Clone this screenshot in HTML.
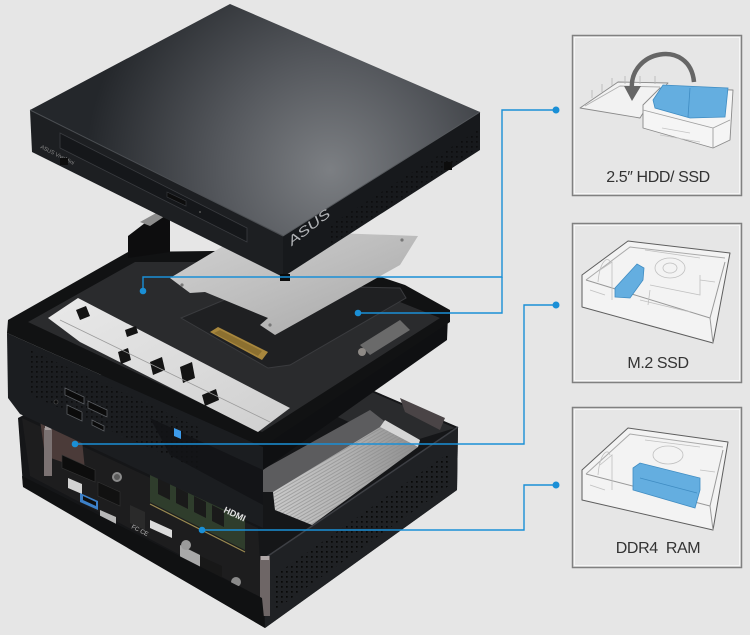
<!DOCTYPE html>
<html><head><meta charset="utf-8">
<style>
html,body{margin:0;padding:0;background:#e6e6e6;}
body{width:750px;height:635px;overflow:hidden;position:relative;font-family:"Liberation Sans",sans-serif;}
svg{position:absolute;left:0;top:0;display:block;}
</style></head><body>
<svg width="750" height="635" viewBox="0 0 750 635" xmlns="http://www.w3.org/2000/svg">
<defs>
 <radialGradient id="lidTop" cx="330" cy="170" r="245" gradientUnits="userSpaceOnUse">
  <stop offset="0" stop-color="#7c7f83"/>
  <stop offset="0.45" stop-color="#55585d"/>
  <stop offset="1" stop-color="#24272b"/>
 </radialGradient>
 <linearGradient id="silver" x1="0" y1="0" x2="1" y2="1">
  <stop offset="0" stop-color="#d2d2d2"/>
  <stop offset="0.5" stop-color="#bdbdbd"/>
  <stop offset="1" stop-color="#a5a5a5"/>
 </linearGradient>
 <linearGradient id="plate" x1="0" y1="0" x2="1" y2="1">
  <stop offset="0" stop-color="#e9e9e9"/>
  <stop offset="1" stop-color="#cfcfcf"/>
 </linearGradient>
 <linearGradient id="heat" x1="0" y1="0" x2="1" y2="0">
  <stop offset="0" stop-color="#c9c9c9"/>
  <stop offset="0.5" stop-color="#b3b3b3"/>
  <stop offset="1" stop-color="#8e8e8e"/>
 </linearGradient>
 <pattern id="perf" width="5" height="5" patternUnits="userSpaceOnUse">
  <rect x="1" y="1" width="1.7" height="1.7" fill="#050505"/>
 </pattern>
 <pattern id="fins" width="3" height="3" patternUnits="userSpaceOnUse" patternTransform="rotate(-30)">
  <rect x="0" y="0" width="3" height="1" fill="#8a8a8a" opacity="0.6"/>
 </pattern>
</defs>

<!-- ========== BASE ========== -->
<polygon points="18,418 120,365 367,388 458,427 457,490 265,628 23,486" fill="#151618"/>
<polygon points="300,400 367,390 455,428 400,445" fill="#2a2b2d"/>
<polygon points="400,398 445,418 440,430 405,412" fill="#4a4446"/>
<polygon points="22,418 258,528 262,598 30,476" fill="#1d1d1e"/>
<polygon points="40,420 82,440 85,470 45,456" fill="#4b3b39"/>
<rect x="44" y="428" width="8" height="48" fill="#7b7272"/>
<rect x="45" y="426" width="6" height="4" fill="#a8a0a0"/>
<polygon points="62,455 95,470 95,482 62,468" fill="#0d0d0d" stroke="#333" stroke-width="0.6"/>
<polygon points="68,478 82,484 82,494 68,488" fill="#d3d3d3"/>
<polygon points="80,493 98,501 98,510 80,502" fill="#3c80c8"/>
<polygon points="83,496 96,502 96,506 83,500" fill="#0f0f0f"/>
<polygon points="100,510 116,517 116,526 100,519" fill="#b8b8b8"/>
<polygon points="98,482 120,492 120,506 98,496" fill="#111" stroke="#333" stroke-width="0.6"/>
<circle cx="117" cy="477" r="5" fill="#8c8c8c"/>
<circle cx="117" cy="477" r="3" fill="#5a5a5a"/>
<polygon points="130,505 145,512 145,530 130,523" fill="#2a2a2a"/>
<polygon points="150,520 172,530 172,538 150,528" fill="#dcdcdc"/>
<text x="131" y="528" font-size="6" fill="#bbb" transform="rotate(27 131 528)">FC CE</text>
<polygon points="150,474 160,470 245,515 245,550 150,502" fill="#2f3d2c"/>
<g fill="#1a1a1a">
 <polygon points="158,478 170,484 170,500 158,494"/>
 <polygon points="176,487 188,493 188,509 176,503"/>
 <polygon points="194,496 206,502 206,518 194,512"/>
 <polygon points="212,505 224,511 224,527 212,521"/>
</g>
<line x1="150" y1="504" x2="245" y2="552" stroke="#9a8a50" stroke-width="1.2"/>
<polygon points="180,545 200,555 200,568 180,558" fill="#a9a9a9"/>
<circle cx="186" cy="545" r="5" fill="#9b9b9b"/>
<polygon points="200,556 222,566 222,580 200,570" fill="#181818"/>
<circle cx="236" cy="582" r="5" fill="#8a8a8a"/>
<polygon points="262,470 370,410 388,424 275,492 262,492" fill="#5c5c5e"/>
<polygon points="273,492 380,427 418,447 312,525 275,510" fill="url(#heat)"/>
<polygon points="273,492 380,427 418,447 312,525 275,510" fill="url(#fins)"/>
<polygon points="380,427 418,447 420,440 385,420" fill="#d6d6d6"/>
<polygon points="265,558 458,427 457,490 265,628" fill="#1f2124"/>
<polygon points="275,575 450,452 450,485 275,610" fill="url(#perf)" opacity="0.9"/>
<line x1="265" y1="558" x2="458" y2="427" stroke="#3d3f44" stroke-width="1.5"/>
<rect x="260" y="556" width="10" height="60" fill="#6e6666"/>
<rect x="261" y="556" width="8" height="4" fill="#b0a8a8"/>
<polygon points="22,476 262,598 265,628 23,487" fill="#101112"/>

<!-- ========== MIDDLE TRAY ========== -->
<polygon points="7,333 263,447 263,528 20,414 8,398" fill="#1b1d20"/>
<polygon points="30,350 200,428 200,470 30,395" fill="url(#perf)" opacity="0.7"/>
<polygon points="150,418 263,470 263,505 170,455" fill="#121315" opacity="0.8"/>
<polygon points="263,447 448,315 447,340 263,470" fill="#0f1012"/>
<polygon points="8,320 128,252 300,250 405,285 450,310 450,322 263,447 7,333" fill="#111213"/>
<polygon points="28,322 135,262 300,262 440,318 262,432" fill="#2a2b2d"/>
<polygon points="128,258 128,236 158,213 170,214 170,252" fill="#0d0d0e"/>
<polygon points="140,222 158,212 168,214 150,226" fill="#8c8c8c"/>
<polygon points="48,318 78,298 290,408 258,432 80,342" fill="url(#plate)"/>
<g fill="#141414">
 <polygon points="76,310 86,306 90,316 80,320"/>
 <polygon points="118,352 128,348 131,360 121,364"/>
 <polygon points="150,362 162,357 165,370 153,375"/>
 <polygon points="180,367 192,362 195,378 183,383"/>
 <polygon points="202,395 216,389 219,400 205,406"/>
 <polygon points="125,330 136,326 138,333 127,337"/>
</g>
<line x1="60" y1="320" x2="270" y2="422" stroke="#9a9a9a" stroke-width="0.8"/>
<polygon points="181,318 260,285 400,288 406,298 290,365 268,368" fill="#1f2022" stroke="#3a3b3e" stroke-width="1"/>
<polygon points="210,332 218,327 268,352 262,360" fill="#a8873d"/>
<polygon points="214,333 220,330 262,351 258,356" fill="#7a6128" opacity="0.6"/>
<polygon points="360,345 400,320 410,330 370,355" fill="#6a6a6a"/>
<circle cx="362" cy="352" r="4" fill="#8e8a86"/>
<polygon points="170,278 250,230 418,236 400,265 275,335 260,325 268,318 205,292 190,293" fill="url(#silver)"/>
<circle cx="182" cy="285" r="1.6" fill="#777"/>
<circle cx="270" cy="325" r="1.6" fill="#777"/>
<circle cx="402" cy="240" r="1.6" fill="#777"/>
<g fill="#0b0b0b" stroke="#5a5d61" stroke-width="0.8">
 <polygon points="65,388 84,397 84,404 65,395"/>
 <polygon points="88,401 107,410 107,417 88,408"/>
 <polygon points="67,405 82,412 82,421 67,414"/>
 <polygon points="92,420 104,426 104,431 92,425"/>
</g>
<circle cx="56" cy="402" r="2" fill="#0a0a0a" stroke="#555" stroke-width="0.6"/>
<polygon points="174,428 181,431 181,439 174,436" fill="#3d9bea"/>
<text x="223" y="512" font-size="9" font-weight="bold" fill="#e0e0e0" transform="rotate(25 223 512)">HDMI</text>

<!-- ========== LID ========== -->
<polygon points="30,110 283,236 283,277 32,152" fill="#1d1f22"/>
<polygon points="283,236 480,112 480,150 283,277" fill="#17191c"/>
<polygon points="330,225 478,130 478,148 330,245" fill="url(#perf)" opacity="0.6"/>
<polygon points="30,110 230,4 480,112 283,236" fill="url(#lidTop)"/>
<line x1="30" y1="110" x2="283" y2="236" stroke="#4b4e52" stroke-width="1"/>
<line x1="283" y1="236" x2="480" y2="112" stroke="#56595d" stroke-width="1"/>
<polygon points="60,133 247,228 247,242 60,148" fill="#15171a" stroke="#3a3c40" stroke-width="0.8"/>
<polygon points="167,192 186,201 186,206 167,197" fill="#0d0d0d" stroke="#3a3c40" stroke-width="0.6"/>
<circle cx="200" cy="212" r="1" fill="#555"/>
<text x="40" y="148" font-size="5.5" fill="#8a8a8a" transform="rotate(27 40 148)">ASUS VivoMini</text>
<text x="292" y="246" font-size="13" font-style="italic" fill="#b3b5b8" transform="rotate(-38 292 246)" textLength="50" lengthAdjust="spacingAndGlyphs">ASUS</text>
<rect x="60" y="158" width="8" height="7" fill="#0c0c0c"/>
<rect x="280" y="274" width="10" height="7" fill="#0c0c0c"/>
<rect x="444" y="162" width="8" height="8" fill="#0c0c0c"/>

<!-- ========== CONNECTORS ========== -->
<g fill="none" stroke="#1a8fd6" stroke-width="1.4">
 <polyline points="143,291 143,277 502,277 502,110 556,110"/>
 <polyline points="358,313 502,313 502,277"/>
 <polyline points="75,444 524,444 524,305 556,305"/>
 <polyline points="202,530 524,530 524,485 556,485"/>
</g>
<g fill="#1a8fd6">
 <circle cx="143" cy="291" r="3.3"/>
 <circle cx="358" cy="313" r="3.3"/>
 <circle cx="75" cy="444" r="3.3"/>
 <circle cx="202" cy="530" r="3.3"/>
 <circle cx="556" cy="110" r="3.5"/>
 <circle cx="556" cy="305" r="3.5"/>
 <circle cx="556" cy="485" r="3.5"/>
</g>

<!-- ========== PANELS ========== -->
<g fill="none">
 <rect x="572.5" y="35.5" width="169" height="160" stroke="#808080" stroke-width="1.5"/>
 <rect x="574.5" y="37.5" width="165" height="156" stroke="#f6f6f6" stroke-width="1"/>
 <rect x="572.5" y="223.5" width="169" height="159" stroke="#808080" stroke-width="1.5"/>
 <rect x="574.5" y="225.5" width="165" height="155" stroke="#f6f6f6" stroke-width="1"/>
 <rect x="572.5" y="407.5" width="169" height="160" stroke="#808080" stroke-width="1.5"/>
 <rect x="574.5" y="409.5" width="165" height="156" stroke="#f6f6f6" stroke-width="1"/>
</g>

<!-- panel 1 drawing -->
<g stroke="#8a8a8a" stroke-width="0.9" stroke-linejoin="round">
 <polygon points="580,108 618,82 668,83 648,105 640,118" fill="#f2f2f2"/>
 <polyline points="585,106 620,86 660,87" fill="none" stroke="#b0b0b0"/>
 <polygon points="643,105 660,88 733,90 730,140 713,148 643,128" fill="#f5f5f5"/>
 <polyline points="643,110 713,128 730,120" fill="none" stroke="#a0a0a0"/>
 <line x1="713" y1="128" x2="713" y2="148" stroke="#a0a0a0"/>
</g>
<g stroke="#b5b5b5" stroke-width="0.8">
 <line x1="592" y1="98" x2="592" y2="90"/><line x1="602" y1="92" x2="602" y2="84"/>
 <line x1="612" y1="86" x2="612" y2="78"/><line x1="625" y1="84" x2="625" y2="76"/>
 <line x1="640" y1="84" x2="640" y2="76"/><line x1="655" y1="84" x2="655" y2="76"/>
</g>
<g stroke="#c4c4c4" stroke-width="0.7" fill="none">
 <line x1="660" y1="135" x2="700" y2="142"/>
 <line x1="662" y1="128" x2="690" y2="133"/>
</g>
<polygon points="653,100 663,85 728,88 725,117 690,118 655,108" fill="#64aee0" stroke="#3f8cc2" stroke-width="0.8"/>
<line x1="690" y1="88" x2="688" y2="117" stroke="#3f8cc2" stroke-width="0.8"/>
<path d="M 632 90 C 628 50, 690 38, 694 82" fill="none" stroke="#666" stroke-width="4.5"/>
<polygon points="624,86 641,86 632,101" fill="#666"/>
<text x="658" y="182" font-size="16" letter-spacing="-0.4" fill="#333" text-anchor="middle">2.5″ HDD/ SSD</text>

<!-- panel 2 drawing -->
<g stroke="#5e5e5e" stroke-width="1" stroke-linejoin="round">
 <polygon points="582,275 628,241 730,253 713,343 582,307" fill="#f3f3f3"/>
 <polyline points="586,280 630,247 725,258" fill="none" stroke="#aaa"/>
 <polyline points="586,280 710,318 725,262" fill="none" stroke="#999"/>
 <line x1="710" y1="318" x2="713" y2="343" stroke="#999"/>
</g>
<g stroke="#c0c0c0" stroke-width="0.8" fill="none">
 <ellipse cx="670" cy="268" rx="15" ry="10"/>
 <ellipse cx="670" cy="268" rx="7" ry="5"/>
 <polyline points="650,285 700,295 700,275"/>
 <polyline points="600,270 612,262 612,300"/>
 <path d="M 598 282 C 600 260, 608 256, 610 262"/>
 <line x1="640" y1="300" x2="690" y2="312"/>
 <line x1="645" y1="250" x2="700" y2="258"/>
 <line x1="650" y1="290" x2="648" y2="305"/>
 <line x1="700" y1="280" x2="715" y2="282"/>
 <line x1="590" y1="290" x2="605" y2="295"/>
</g>
<polygon points="615,288 637,264 644,268 643,280 630,298 615,297" fill="#64aee0" stroke="#3f8cc2" stroke-width="0.8"/>
<text x="658" y="368" font-size="16" letter-spacing="-0.4" fill="#333" text-anchor="middle">M.2 SSD</text>

<!-- panel 3 drawing -->
<g stroke="#5e5e5e" stroke-width="1" stroke-linejoin="round">
 <polygon points="582,470 628,428 728,442 713,530 582,500" fill="#f3f3f3"/>
 <polyline points="586,474 630,434 723,447" fill="none" stroke="#aaa"/>
 <polyline points="586,474 710,506 723,450" fill="none" stroke="#999"/>
 <line x1="710" y1="506" x2="713" y2="530" stroke="#999"/>
</g>
<g stroke="#c0c0c0" stroke-width="0.8" fill="none">
 <ellipse cx="668" cy="455" rx="15" ry="9"/>
 <polyline points="600,465 612,455 612,490"/>
 <path d="M 598 475 C 600 452, 608 448, 610 455"/>
 <line x1="640" y1="490" x2="695" y2="505"/>
 <line x1="645" y1="440" x2="700" y2="447"/>
 <line x1="590" y1="485" x2="605" y2="490"/>
 <line x1="700" y1="470" x2="715" y2="472"/>
</g>
<polygon points="633,468 640,463 700,478 700,490 695,508 640,492 633,490" fill="#64aee0" stroke="#3f8cc2" stroke-width="0.8"/>
<line x1="640" y1="478" x2="697" y2="493" stroke="#3f8cc2" stroke-width="0.7"/>
<text x="658" y="553" font-size="16" letter-spacing="-0.4" fill="#333" text-anchor="middle">DDR4&#160;&#160;RAM</text>
</svg>
</body></html>
